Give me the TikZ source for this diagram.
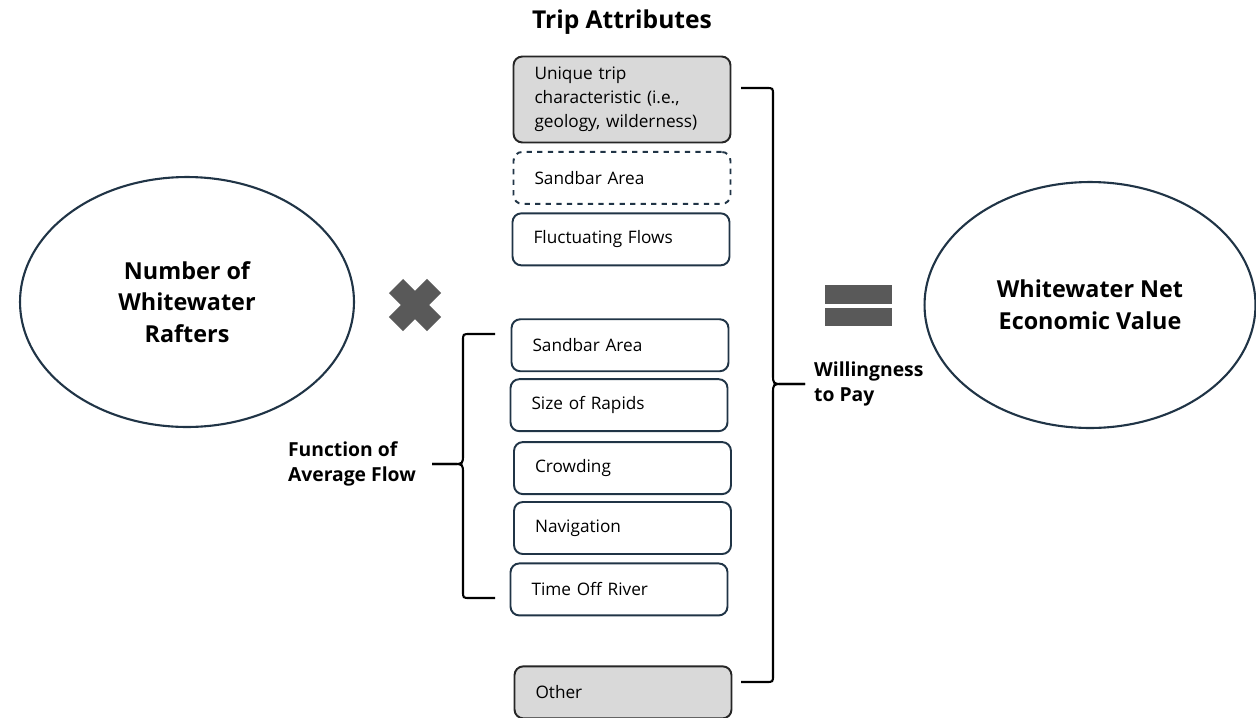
\documentclass[tikz,border=0pt]{standalone}
\usepackage{fontspec}
\setmainfont{Open Sans}
\usepackage{xcolor}
\definecolor{boxnavy}{RGB}{32,52,70}
\definecolor{symgray}{RGB}{89,89,89}
\definecolor{softgray}{RGB}{217,217,217}
\usepackage{tikz}
\usetikzlibrary{
  positioning,
  shapes.geometric
}
\tikzset{
  attrbox/.style={draw=boxnavy, rounded corners=5pt, line width=1.1pt,
    minimum width=4.34cm, minimum height=1.04cm,
    text width=3.5cm, inner xsep=0.4cm, align=left,
    font=\fontsize{9.8}{13.6}\selectfont},
  greybox/.style={attrbox, draw=black!85, fill=softgray},
  guessbox/.style={attrbox, dashed},
  bigoval/.style={draw=boxnavy, ellipse, line width=1.2pt,
    minimum width=6.68cm, minimum height=5cm,
    align=center, font=\fontsize{13.3}{18}\selectfont\bfseries},
  sidelabel/.style={align=left, font=\fontsize{11}{14.7}\selectfont\bfseries},
  curly/.style={line width=1.2pt, black},
  opmark/.style={fill=symgray, draw=none},
}

\begin{document}
\begin{tikzpicture}[x=0.02cm, y=-0.02cm, node distance=0.15cm]
  \useasboundingbox (0,0) rectangle (1256,717);

  % Trip attributes column
  \node[greybox, minimum height=1.72cm] (unique) at (622,99.5)
    {Unique trip\\characteristic (i.e.,\\geology, wilderness)};
  \node[guessbox, below=of unique] (sandtop) {Sandbar Area};
  \node[attrbox, below=of sandtop, xshift=-0.02cm] (fluct) {Fluctuating Flows};
  \node[attrbox, below=1.04cm of fluct, xshift=-0.02cm] (sandflow) {Sandbar Area};
  \node[attrbox, below=0.12cm of sandflow, xshift=-0.02cm] (rapids) {Size of Rapids};
  \node[attrbox, below=0.18cm of rapids, xshift=0.07cm] (crowd) {Crowding};
  \node[attrbox, below=0.12cm of crowd] (navig) {Navigation};
  \node[attrbox, below=of navig, xshift=-0.07cm] (timeoff) {Time Off River};
  \node[greybox, below=0.98cm of timeoff, xshift=0.08cm] (other) {Other};

  \node[above=0.3cm of unique, font=\fontsize{14}{17}\selectfont\bfseries]
    (title) {Trip Attributes};

  % Ovals
  \node[bigoval] (rafters) at (187,302) {Number of\\Whitewater\\Rafters};
  \node[bigoval, minimum width=6.62cm, minimum height=4.92cm] (netvalue)
    at (1090,305) {Whitewater Net\\Economic Value};

  % Times and equals signs
  \draw[symgray, line width=0.4cm] (396,286) -- (434,324);
  \draw[symgray, line width=0.4cm] (434,286) -- (396,324);
  \fill[opmark] (825,285) rectangle (892,304);
  \fill[opmark] (825,308) rectangle (892,326);

  % Braces
  \coordinate (flowtip) at (432,464);
  \coordinate (paytip) at (805,384);
  \draw[curly] (495,334) -- (470,334) .. controls (463,334) .. (463,341)
    -- (463,454) .. controls (463,464) .. (453,464) -- (flowtip);
  \draw[curly] (flowtip) -- (453,464) .. controls (463,464) .. (463,474)
    -- (463,591) .. controls (463,598) .. (470,598) -- (495,598);
  \draw[curly] (741,88) -- (766,88) .. controls (773,88) .. (773,95)
    -- (773,374) .. controls (773,384) .. (783,384) -- (paytip);
  \draw[curly] (paytip) -- (783,384) .. controls (773,384) .. (773,394)
    -- (773,675) .. controls (773,682) .. (766,682) -- (741,682);

  % Labels
  \node[sidelabel, left=0.2cm of flowtip] (flowlabel)
    {Function of\\Average Flow};
  \node[sidelabel, right=0.06cm of paytip] (paylabel)
    {Willingness\\to Pay};
\end{tikzpicture}
\end{document}
